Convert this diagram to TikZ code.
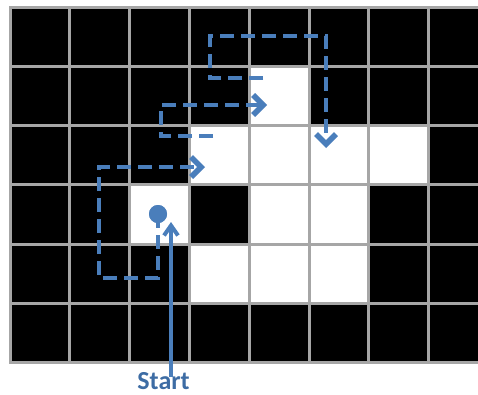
\documentclass[tikz,border=0pt]{standalone}
\usepackage{fontspec}
\setmainfont{Carlito}
\usetikzlibrary{arrows.meta}
\definecolor{pathblue}{HTML}{4A7EBB}
\definecolor{textblue}{HTML}{3D6CA4}
\definecolor{gridgray}{HTML}{A6A6A6}
\begin{document}
\begin{tikzpicture}[x=1pt,y=-1pt,
  gridline/.style={draw=gridgray,line width=3pt,line cap=rect},
  dpath/.style={draw=pathblue,line width=4.8pt,dash pattern=on 14pt off 7pt,
    -{Straight Barb[length=10pt,width=20pt,line width=5.5pt]}},
  startarrow/.style={draw=pathblue,line width=3.5pt,
    -{Straight Barb[length=10pt,width=14pt,line width=4pt]}},
  dot/.style={circle,fill=pathblue,minimum size=18pt,inner sep=0pt},
  lbl/.style={font=\bfseries\fontsize{26pt}{30pt}\selectfont,text=textblue,inner sep=0pt,anchor=base}]
\useasboundingbox (0,0) rectangle (478,394);
\begin{scope}
  \clip (0,0) rectangle (478,394);
  \fill[black] (10,7) rectangle (488.4,362.8);
  \foreach \c/\r in {4/1,3/2,4/2,5/2,6/2,2/3,4/3,5/3,3/4,4/4,5/4}
    \fill[white] ({10+59.8*\c},{7+59.3*\r}) rectangle ++(59.8,59.3);
  \foreach \i in {0,...,8}
    \draw[gridline] ({10+59.8*\i},7) -- ({10+59.8*\i},362.8);
  \foreach \j in {0,...,6}
    \draw[gridline] (10,{7+59.3*\j}) -- (488.4,{7+59.3*\j});
\end{scope}
% start dot and label
\node[dot] (s) at (158,214) {};
\node[lbl] (t) at (163.5,389.5) {Start};
% path 1
\coordinate (a1) at (158,278);
\coordinate (a2) at (99,278);
\coordinate (a3) at (99,167);
\coordinate (a4) at (205,167);
% path 2
\coordinate (b0) at (213,136);
\coordinate (b1) at (161,136);
\coordinate (b2) at (161,105);
\coordinate (b3) at (267,105);
% path 3
\coordinate (c0) at (263,78);
\coordinate (c1) at (210,78);
\coordinate (c2) at (210,36);
\coordinate (c3) at (326,36);
\coordinate (c4) at (326,148);
\draw[dpath] (s.center) -- (a1) -- (a2) -- (a3) -- (a4);
\draw[dpath] (b0) -- (b1) -- (b2) -- (b3);
\draw[dpath] (c0) -- (c1) -- (c2) -- (c3) -- (c4);
\node[dot] at (s) {};
% start arrow
\coordinate (st) at (171,222);
\coordinate (sb) at (171,377);
\draw[startarrow] (sb) -- (st);
\end{tikzpicture}
\end{document}
